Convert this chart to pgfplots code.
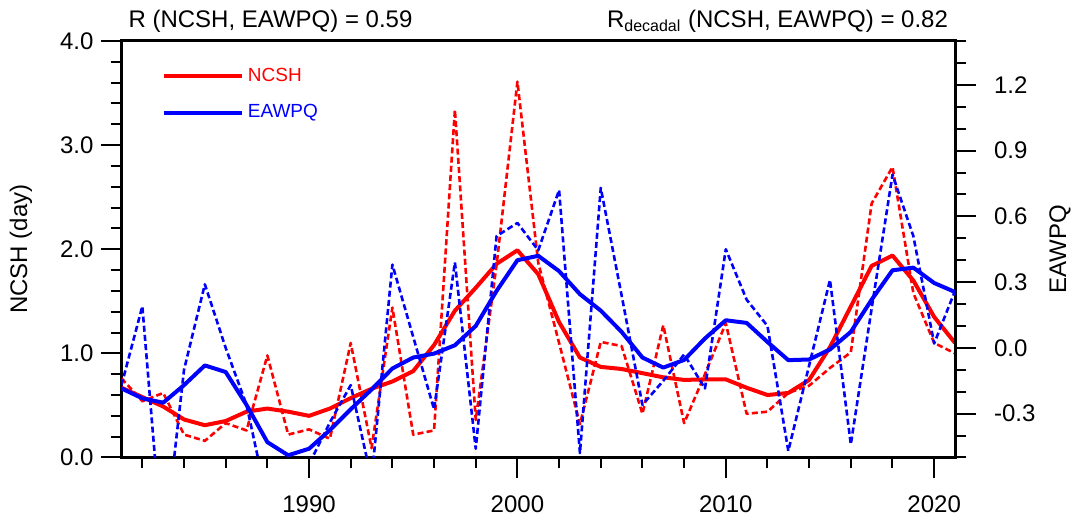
\documentclass[border=0pt]{standalone}
\usepackage{fontspec}
\setmainfont{Liberation Sans}
\usepackage{pgfplots}
\pgfplotsset{compat=1.18}
\definecolor{ncred}{RGB}{255,0,0}
\definecolor{ncblue}{RGB}{0,0,255}
\begin{document}
\begin{tikzpicture}
\pgfplotsset{
  common/.style={
    scale only axis, width=416.75pt, height=208.25pt,
    xmin=1981, xmax=2021,
    clip mode=individual,
    tick align=outside,
    major tick length=10.5pt, minor tick length=5.5pt,
    every tick/.style={black, line width=1pt},
    axis line style={line width=1.5pt},
    tick label style={font=\fontsize{12}{14}\selectfont},
    label style={font=\fontsize{12}{14}\selectfont},
  },
  dashedl/.style={line width=1.3pt, dash pattern=on 3pt off 1.6pt, line join=round},
  solidl/.style={line width=2pt, line join=round},
}
\begin{axis}[common,
  ymin=0, ymax=4,
  xtick={1990,2000,2010,2020}, xticklabels={1990,2000,2010,2020},
  minor xtick={1982,1984,...,2020},
  xticklabel style={yshift=-5pt},
  xtick pos=left, ytick pos=left,
  ytick={0,1,2,3,4}, yticklabels={0.0,1.0,2.0,3.0,4.0},
  minor ytick={0.2,0.4,...,3.9},
  ylabel={NCSH (day)},
  ylabel style={at={(axis description cs:-0.1206,0.5)}, anchor=center},
  legend style={at={(axis description cs:0.048,0.945)}, anchor=north west, draw=none, fill=none,
    font=\fontsize{9.5}{11}\selectfont, row sep=6pt, inner sep=0pt},
  legend cell align=left,
  legend image code/.code={\draw[#1] (-1.5pt,0pt) -- (37.5pt,0pt);},
]
\addplot[ncred, dashedl, forget plot] coordinates {
(1981,0.76) (1982,0.54) (1983,0.62) (1984,0.22) (1985,0.16) (1986,0.33) (1987,0.26)
(1988,0.98) (1989,0.22) (1990,0.27) (1991,0.18) (1992,1.10) (1993,0.09) (1994,1.44)
(1995,0.22) (1996,0.26) (1997,3.34) (1998,0.36) (1999,1.85) (2000,3.61) (2001,1.87)
(2002,1.10) (2003,0.32) (2004,1.11) (2005,1.07) (2006,0.42) (2007,1.27) (2008,0.33)
(2009,0.80) (2010,1.29) (2011,0.42) (2012,0.44) (2013,0.62) (2014,0.69) (2015,0.86)
(2016,1.01) (2017,2.44) (2018,2.79) (2019,1.58) (2020,1.10) (2021,1.00)};
\addplot[ncred, solidl] coordinates {
(1981,0.67) (1982,0.58) (1983,0.49) (1984,0.365) (1985,0.31) (1986,0.35) (1987,0.44)
(1988,0.47) (1989,0.44) (1990,0.40) (1991,0.47) (1992,0.57) (1993,0.66) (1994,0.73)
(1995,0.83) (1996,1.08) (1997,1.41) (1998,1.63) (1999,1.86) (2000,1.99) (2001,1.76)
(2002,1.30) (2003,0.96) (2004,0.87) (2005,0.85) (2006,0.81) (2007,0.77) (2008,0.745)
(2009,0.75) (2010,0.75) (2011,0.67) (2012,0.60) (2013,0.62) (2014,0.745) (2015,1.06)
(2016,1.45) (2017,1.84) (2018,1.94) (2019,1.70) (2020,1.35) (2021,1.10)};
\addlegendentry{\textcolor{ncred}{NCSH}}
\addlegendimage{ncblue, solidl}
\addlegendentry{\textcolor{ncblue}{EAWPQ}}
\node[anchor=base west, font=\fontsize{12}{14}\selectfont] at ([yshift=6.5pt]rel axis cs:0,1) {R (NCSH, EAWPQ) = 0.59};
\node[anchor=base east, font=\fontsize{12}{14}\selectfont] at ([yshift=6.5pt]rel axis cs:1,1) {R\textsubscript{decadal} (NCSH, EAWPQ) = 0.82};
\end{axis}
\begin{axis}[common,
  ymin=-0.5, ymax=1.4,
  axis x line=none, axis y line*=right,
  ytick pos=right,
  ytick={-0.3,0,0.3,0.6,0.9,1.2}, yticklabels={-0.3,0.0,0.3,0.6,0.9,1.2},
  yticklabel style={xshift=5.5pt},
  minor ytick={-0.5,-0.4,...,1.45},
  ylabel={EAWPQ},
  ylabel style={at={(axis description cs:1.126,0.5)}, anchor=center},
]
\addplot[ncblue, dashedl] coordinates {
(1981,-0.17) (1982,0.19) (1983,-0.95) (1984,-0.10) (1985,0.29) (1986,0.00) (1987,-0.26)
(1988,-0.70) (1989,-0.85) (1990,-0.53) (1991,-0.34) (1992,-0.17) (1993,-0.60) (1994,0.38)
(1995,0.05) (1996,-0.28) (1997,0.39) (1998,-0.46) (1999,0.51) (2000,0.57) (2001,0.445)
(2002,0.72) (2003,-0.48) (2004,0.73) (2005,0.24) (2006,-0.26) (2007,-0.15) (2008,-0.03)
(2009,-0.185) (2010,0.45) (2011,0.22) (2012,0.10) (2013,-0.47) (2014,-0.08) (2015,0.31)
(2016,-0.44) (2017,0.18) (2018,0.79) (2019,0.51) (2020,0.02) (2021,0.26)};
\addplot[ncblue, solidl] coordinates {
(1981,-0.185) (1982,-0.23) (1983,-0.25) (1984,-0.17) (1985,-0.08) (1986,-0.11) (1987,-0.26)
(1988,-0.43) (1989,-0.49) (1990,-0.46) (1991,-0.375) (1992,-0.28) (1993,-0.19) (1994,-0.094)
(1995,-0.044) (1996,-0.026) (1997,0.012) (1998,0.10) (1999,0.26) (2000,0.40) (2001,0.42)
(2002,0.35) (2003,0.245) (2004,0.17) (2005,0.073) (2006,-0.044) (2007,-0.09) (2008,-0.055)
(2009,0.043) (2010,0.126) (2011,0.114) (2012,0.027) (2013,-0.056) (2014,-0.053) (2015,-0.007)
(2016,0.073) (2017,0.22) (2018,0.354) (2019,0.366) (2020,0.296) (2021,0.255)};
\end{axis}
\pgfresetboundingbox
\useasboundingbox (-60.75pt,-32.25pt) rectangle (476.25pt,228.75pt);
\end{tikzpicture}
\end{document}
